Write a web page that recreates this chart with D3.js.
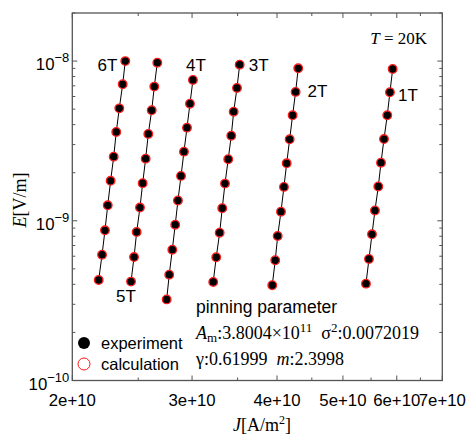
<!DOCTYPE html>
<html><head><meta charset="utf-8">
<script src="https://cdn.jsdelivr.net/npm/d3@7"></script>
<style>body{margin:0;background:#fff}svg{display:block}</style>
</head><body>
<svg id="c" width="470" height="437"></svg>
<script>
// ---------- data ----------
const seriesNames = ["6T","5T","4T","3T","2T","1T"];
const J_6T = [2.393e10,2.372e10,2.345e10,2.321e10,2.301e10,2.277e10,2.255e10,2.234e10,2.212e10,2.187e10];
const E_6T = [1.00e-8,7.16e-9,5.06e-9,3.60e-9,2.52e-9,1.78e-9,1.25e-9,8.72e-10,6.13e-10,4.26e-10];
const J_5T = [2.667e10,2.640e10,2.617e10,2.587e10,2.564e10,2.538e10,2.515e10,2.487e10,2.465e10,2.440e10];
const E_5T = [9.77e-9,6.92e-9,4.92e-9,3.50e-9,2.45e-9,1.72e-9,1.21e-9,8.51e-10,5.93e-10,4.16e-10];
const J_4T = [3.009e10,2.979e10,2.949e10,2.919e10,2.890e10,2.860e10,2.834e10,2.806e10,2.777e10,2.753e10];
const E_4T = [7.62e-9,5.41e-9,3.83e-9,2.71e-9,1.91e-9,1.34e-9,9.45e-10,6.59e-10,4.60e-10,3.22e-10];
const J_3T = [3.525e10,3.493e10,3.454e10,3.426e10,3.391e10,3.354e10,3.323e10,3.294e10,3.256e10,3.223e10];
const E_3T = [9.50e-9,6.79e-9,4.82e-9,3.41e-9,2.43e-9,1.71e-9,1.20e-9,8.42e-10,5.91e-10,4.14e-10];
const J_2T = [4.298e10,4.260e10,4.217e10,4.175e10,4.133e10,4.095e10,4.054e10,4.009e10,3.976e10,3.936e10];
const E_2T = [9.01e-9,6.41e-9,4.58e-9,3.24e-9,2.29e-9,1.63e-9,1.14e-9,8.03e-10,5.66e-10,3.95e-10];
const J_1T = [5.917e10,5.863e10,5.810e10,5.746e10,5.688e10,5.636e10,5.573e10,5.517e10,5.461e10,5.406e10];
const E_1T = [8.92e-9,6.38e-9,4.58e-9,3.25e-9,2.31e-9,1.64e-9,1.16e-9,8.23e-10,5.77e-10,4.04e-10];
const xMajorTicks = [2e10,3e10,4e10,5e10,6e10,7e10];
const xTickLabels = ["2e+10","3e+10","4e+10","5e+10","6e+10","7e+10"];
const xMinorTicks = [2.5e10,3.5e10,4.5e10,5.5e10,6.5e10];
const yMajorTicks = [1e-10,1e-9,1e-8];
const yTickExponents = ["−10","−9","−8"];
const xDomain = [2e10,7e10];
const yDomain = [1e-10,2e-8];
const legendLabels = ["experiment","calculation"];

// ---------- layout ----------
const svg = d3.select("#c");
const L = 72.3, R = 442.3, T = 13, B = 380.5;
const x = d3.scaleLog().domain(xDomain).range([L,R]);
const y = d3.scaleLog().domain(yDomain).range([B,T]);
const sans = "'Liberation Sans', Arial, sans-serif";
const serif = "'Liberation Serif', 'Times New Roman', serif";
const axisCol = "#555";

const series = [
  {name:"6T", J:J_6T, E:E_6T},
  {name:"5T", J:J_5T, E:E_5T},
  {name:"4T", J:J_4T, E:E_4T},
  {name:"3T", J:J_3T, E:E_3T},
  {name:"2T", J:J_2T, E:E_2T},
  {name:"1T", J:J_1T, E:E_1T}
];

// minor y ticks
const yMinor = [];
for (let d = -10; d <= -8; d++) for (let k = 2; k <= 9; k++) { const v = k*Math.pow(10,d); if (v <= yDomain[1]*1.0001) yMinor.push(v); }

const g = svg.append("g");
function drawAxes() {
  const ax = g.append("g").attr("stroke", axisCol).attr("stroke-width",1);
  xMajorTicks.forEach(v => {
    ax.append("line").attr("x1",x(v)).attr("x2",x(v)).attr("y1",B).attr("y2",B-5);
    ax.append("line").attr("x1",x(v)).attr("x2",x(v)).attr("y1",T).attr("y2",T+5);
  });
  xMinorTicks.forEach(v => {
    ax.append("line").attr("x1",x(v)).attr("x2",x(v)).attr("y1",B).attr("y2",B-3);
    ax.append("line").attr("x1",x(v)).attr("x2",x(v)).attr("y1",T).attr("y2",T+3);
  });
  yMajorTicks.forEach(v => {
    ax.append("line").attr("y1",y(v)).attr("y2",y(v)).attr("x1",L).attr("x2",L+5);
    ax.append("line").attr("y1",y(v)).attr("y2",y(v)).attr("x1",R).attr("x2",R-5);
  });
  yMinor.forEach(v => {
    ax.append("line").attr("y1",y(v)).attr("y2",y(v)).attr("x1",L).attr("x2",L+3);
    ax.append("line").attr("y1",y(v)).attr("y2",y(v)).attr("x1",R).attr("x2",R-3);
  });
  ax.append("rect").attr("x",L).attr("y",T).attr("width",R-L).attr("height",B-T)
    .attr("fill","none").attr("stroke-width",1.3);
}
drawAxes();

// x tick labels
g.append("g").selectAll("text").data(xMajorTicks).join("text")
  .attr("x", d => x(d)).attr("y", B+25)
  .attr("text-anchor","middle").attr("font-family",sans).attr("font-size",16.8)
  .text((d,i) => xTickLabels[i]);

// y tick labels
yMajorTicks.forEach((v,i) => {
  const t = g.append("text").attr("x", L-3).attr("y", y(v)+9)
    .attr("text-anchor","end").attr("font-family",sans).attr("font-size",16.8);
  t.append("tspan").text("10");
  t.append("tspan").attr("dy",-8).attr("font-size",13).text(yTickExponents[i]);
});

// axis titles
const xt = g.append("text").attr("x",262).attr("y",431).attr("text-anchor","middle")
  .attr("font-family",serif).attr("font-size",18);
xt.append("tspan").attr("font-style","italic").text("J");
xt.append("tspan").text("[A/m");
xt.append("tspan").attr("dy",-7).attr("font-size",12).text("2");
xt.append("tspan").attr("dy",7).text("]");

const yt = g.append("text").attr("transform","translate(26,200) rotate(-90)").attr("text-anchor","middle")
  .attr("font-family",serif).attr("font-size",18);
yt.append("tspan").attr("font-style","italic").text("E");
yt.append("tspan").text("[V/m]");

// data
const line = d3.line().x(d => x(d[0])).y(d => y(d[1]));
const dg = g.append("g");
series.forEach(s => {
  const pts = s.J.map((j,i) => [j, s.E[i]]);
  dg.append("path").datum(pts).attr("d", line).attr("fill","none").attr("stroke","#000").attr("stroke-width",1);
});
series.forEach(s => {
  const pts = s.J.map((j,i) => [j, s.E[i]]);
  dg.append("g").selectAll("circle").data(pts).join("circle")
    .attr("cx", d => x(d[0])).attr("cy", d => y(d[1])).attr("r",4.1).attr("fill","#000");
  dg.append("g").selectAll("circle").data(pts).join("circle")
    .attr("cx", d => x(d[0])).attr("cy", d => y(d[1])).attr("r",4.3)
    .attr("fill","none").attr("stroke","#ff1a1a").attr("stroke-width",1.3);
});

// series labels (anchored to data points)
const labelSpec = {
  "6T": {idx:0, dx:-8, dy:10, anchor:"end"},
  "5T": {idx:9, dx:-15, dy:20, anchor:"start"},
  "4T": {idx:0, dx:3, dy:-9, anchor:"middle"},
  "3T": {idx:0, dx:9, dy:6, anchor:"start"},
  "2T": {idx:1, dx:12, dy:5, anchor:"start"},
  "1T": {idx:1, dx:8, dy:9, anchor:"start"}
};
series.forEach(s => {
  const sp = labelSpec[s.name];
  g.append("text").attr("x", x(s.J[sp.idx]) + sp.dx).attr("y", y(s.E[sp.idx]) + sp.dy)
    .attr("text-anchor", sp.anchor).attr("font-family",sans).attr("font-size",17).text(s.name);
});

// temperature
const tt = g.append("text").attr("x",427).attr("y",44).attr("text-anchor","end")
  .attr("font-family",serif).attr("font-size",17);
tt.append("tspan").attr("font-style","italic").text("T");
tt.append("tspan").text(" = 20K");

// pinning parameters
g.append("text").attr("x",196).attr("y",313).attr("font-family",sans).attr("font-size",17.5).text("pinning parameter");
const p1 = g.append("text").attr("x",196).attr("y",339).attr("font-family",serif).attr("font-size",18);
p1.append("tspan").attr("font-style","italic").text("A");
p1.append("tspan").attr("dy",3).attr("font-size",13).text("m");
p1.append("tspan").attr("dy",-3).text(":3.8004×10");
p1.append("tspan").attr("dy",-7).attr("font-size",13).text("11");
p1.append("tspan").attr("dy",7).text("\u00a0\u00a0σ");
p1.append("tspan").attr("dy",-7).attr("font-size",13).text("2");
p1.append("tspan").attr("dy",7).text(":0.0072019");
const p2 = g.append("text").attr("x",196).attr("y",365).attr("font-family",serif).attr("font-size",18);
p2.append("tspan").text("γ:0.61999\u00a0\u00a0");
p2.append("tspan").attr("font-style","italic").text("m");
p2.append("tspan").text(":2.3998");

// legend
const lg = g.append("g");
lg.append("circle").attr("cx",84).attr("cy",343).attr("r",6).attr("fill","#000");
lg.append("circle").attr("cx",84).attr("cy",364).attr("r",6).attr("fill","none").attr("stroke","#ff1a1a").attr("stroke-width",1);
lg.selectAll("text.lt").data(legendLabels).join("text")
  .attr("x",101).attr("y",(d,i) => 349 + i*21)
  .attr("font-family",sans).attr("font-size",16.5).text(d => d);
</script>
</body></html>
